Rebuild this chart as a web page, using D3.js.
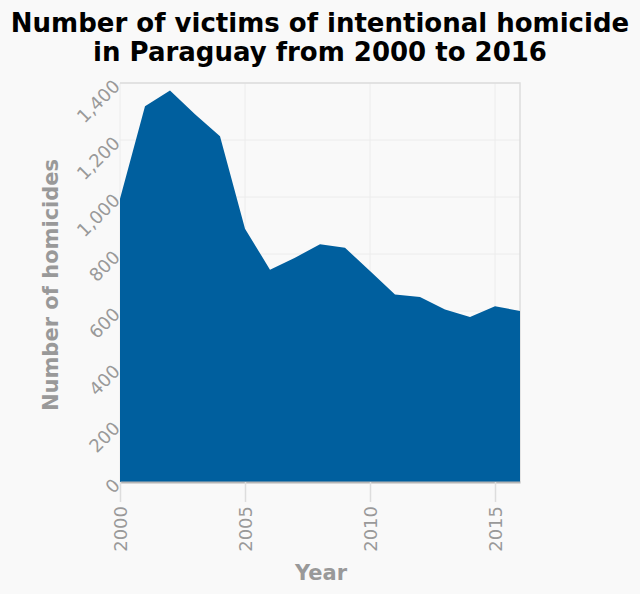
<!DOCTYPE html>
<html><head><meta charset="utf-8">
<script src="https://cdn.jsdelivr.net/npm/d3@7"></script>
<style>body{margin:0;background:#f9f9f9;}svg{display:block;}</style>
</head><body>
<script>
const years = [2000,2001,2002,2003,2004,2005,2006,2007,2008,2009,2010,2011,2012,2013,2014,2015,2016];
const homicides = [994,1318,1374,1290,1213,889,745,787,834,822,740,658,649,605,579,617,600];
const yTicks = [0,200,400,600,800,1000,1200,1400];
const xTicks = [2000,2005,2010,2015];

const W=640,H=594;
const svg=d3.select("body").append("svg").attr("width",W).attr("height",H);
svg.append("rect").attr("width",W).attr("height",H).attr("fill","#f9f9f9");
const x=d3.scaleLinear().domain([2000,2016]).range([120,520]);
const y=d3.scaleLinear().domain([0,1400]).range([482,83]);

const grid=svg.append("g");
grid.selectAll("line.h").data(yTicks).join("line").attr("x1",120).attr("x2",520)
  .attr("y1",d=>y(d)).attr("y2",d=>y(d)).attr("stroke","#ececec").attr("stroke-width",1);
grid.selectAll("line.v").data(xTicks).join("line").attr("y1",83).attr("y2",482)
  .attr("x1",d=>x(d)).attr("x2",d=>x(d)).attr("stroke","#ececec").attr("stroke-width",1);

svg.append("path").attr("d",`M120,${y(1400)}H520V482`).attr("fill","none").attr("stroke","#dddddd").attr("stroke-width",1.5);

const data=years.map((yr,i)=>({yr,v:homicides[i]}));
svg.append("path").datum(data).attr("fill","#005f9e")
  .attr("d",d3.area().x(d=>x(d.yr)).y0(y(0)).y1(d=>y(d.v)));

// x axis
const xa=svg.append("g").attr("transform","translate(0,482)")
  .call(d3.axisBottom(x).tickValues(xTicks).tickFormat(d3.format("d")).tickSize(20).tickSizeOuter(0).tickPadding(6));
xa.select(".domain").attr("stroke","#b5b5b5").attr("stroke-width",2);
xa.selectAll(".tick line").attr("stroke","#dddddd").attr("stroke-width",1.5);
xa.selectAll("text").attr("fill","#999").style("font-family","DejaVu Sans").style("font-size","18px")
  .attr("transform","rotate(-90)").attr("text-anchor","end").attr("x",-24).attr("y",0).attr("dy","0.35em");

// y axis
const ya=svg.append("g").attr("transform","translate(120,0)")
  .call(d3.axisLeft(y).tickValues(yTicks).tickFormat(d3.format(",")).tickSize(0).tickPadding(0));
ya.select(".domain").remove();
ya.selectAll("text").attr("fill","#999").style("font-family","DejaVu Sans").style("font-size","18px")
  .attr("text-anchor","end").attr("x",null).attr("dy",null)
  .attr("transform","translate(1,4) rotate(-45)");

// titles
const t=svg.append("text").attr("x",320).attr("text-anchor","middle")
  .style("font-family","DejaVu Sans").style("font-weight","bold").style("font-size","26px").attr("fill","#000");
t.append("tspan").attr("x",320).attr("y",32).text("Number of victims of intentional homicide");
t.append("tspan").attr("x",320).attr("y",61).text("in Paraguay from 2000 to 2016");

svg.append("text").attr("transform","translate(58,285) rotate(-90)").attr("text-anchor","middle")
  .style("font-family","DejaVu Sans").style("font-weight","bold").style("font-size","21px").attr("fill","#999")
  .text("Number of homicides");
svg.append("text").attr("x",321).attr("y",580).attr("text-anchor","middle")
  .style("font-family","DejaVu Sans").style("font-weight","bold").style("font-size","21px").attr("fill","#999")
  .text("Year");
</script>
</body></html>
